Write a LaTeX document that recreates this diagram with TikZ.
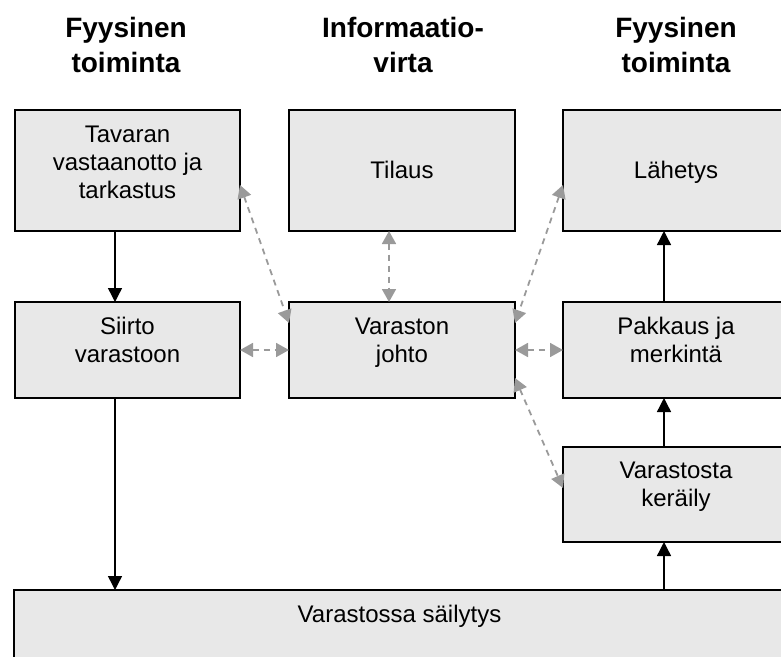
\documentclass[tikz,border=0pt]{standalone}
\usepackage{fontspec}
\setmainfont{Liberation Sans}
\usetikzlibrary{arrows.meta,calc}
\definecolor{boxfill}{HTML}{E8E8E8}
\definecolor{flowgray}{HTML}{9A9A9A}
\begin{document}
\begin{tikzpicture}[x=1pt,y=-1pt,
  box/.style={rectangle, draw=black, line width=1.4pt, fill=boxfill, inner sep=0pt, outer sep=0pt},
  boxtext/.style={font=\fontsize{24}{28}\selectfont, align=center, inner sep=0pt},
  head/.style={font=\fontsize{28}{35}\selectfont\bfseries, align=center, inner sep=0pt},
  flow/.style={draw=black, line width=1.4pt, -{Triangle[length=14pt,width=14pt]}},
  info/.style={draw=flowgray, line width=1.8pt, dash pattern=on 6pt off 5pt,
    {Triangle[length=13pt,width=14pt]}-{Triangle[length=13pt,width=14pt]}, flowgray}]
\useasboundingbox (0,0) rectangle (781,656);
\clip (0,0) rectangle (781,656);

% column headings
\node[head] (h1) at (126,44.5) {Fyysinen\\toiminta};
\node[head] (h2) at (403,44.5) {Informaatio-\\virta};
\node[head] (h3) at (676,44.5) {Fyysinen\\toiminta};

% boxes
\node[box, minimum width=225pt, minimum height=121pt] (tav) at (127.5,170.5) {};
\node[box, minimum width=226pt, minimum height=121pt] (til) at (402,170.5) {};
\node[box, minimum width=226pt, minimum height=121pt] (lah) at (676,170.5) {};
\node[box, minimum width=225pt, minimum height=96pt] (sii) at (127.5,350) {};
\node[box, minimum width=226pt, minimum height=96pt] (joh) at (402,350) {};
\node[box, minimum width=226pt, minimum height=96pt] (pak) at (676,350) {};
\node[box, minimum width=226pt, minimum height=95pt] (ker) at (676,494.5) {};
\node[box, minimum width=790pt, minimum height=110pt] (sai) at (409,645) {};

% box texts
\node[boxtext] (tavt) at (127.5,162) {Tavaran\\vastaanotto ja\\tarkastus};
\node[boxtext, anchor=base] (tilt) at (402,178) {Tilaus};
\node[boxtext, anchor=base] (laht) at (676,178) {Lähetys};
\node[boxtext] (siit) at (127.5,340.4) {Siirto\\varastoon};
\node[boxtext] (joht) at (402,343) {Varaston\\johto};
\node[boxtext] (pakt) at (676,340.4) {Pakkaus ja\\merkintä};
\node[boxtext] (kert) at (676,487) {Varastosta\\keräily};
\node[boxtext, anchor=base] (sait) at (399.5,622) {Varastossa säilytys};

% physical flow
\draw[flow] ([xshift=-12.5pt]tav.south) -- ([xshift=-12.5pt]sii.north);
\draw[flow] ([xshift=-12.5pt]sii.south) -- ($(sai.north -| sii.south)+(-12.5,0)$);
\draw[flow] ([xshift=-12pt]pak.north) -- ([xshift=-12pt]lah.south);
\draw[flow] ([xshift=-12pt]ker.north) -- ([xshift=-12pt]pak.south);
\draw[flow] ($(sai.north -| ker.south)+(-12,0)$) -- ([xshift=-12pt]ker.south);

% information flow
\draw[info] ([yshift=-14.5pt]tav.east) -- ([yshift=-21pt]joh.north west);
\draw[info] ([yshift=-14.5pt]lah.west) -- ([yshift=-21pt]joh.north east);
\draw[info] ([xshift=-13pt]til.south) -- ([xshift=-13pt]joh.north);
\draw[info] (sii.east) -- (joh.west);
\draw[info] (joh.east) -- (pak.west);
\draw[info] ([yshift=-28pt]joh.east) -- ([yshift=6.5pt]ker.west);
\end{tikzpicture}
\end{document}
